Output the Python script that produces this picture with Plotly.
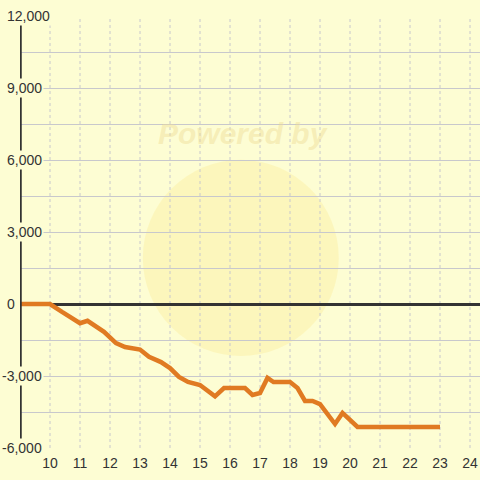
import plotly.graph_objects as go

# Data
hours = [9, 10, 10.4, 11, 11.25, 11.8, 12.2, 12.5, 13, 13.3, 13.7, 14, 14.3, 14.6,
         15, 15.4, 15.5, 15.8, 16.5, 16.75, 17, 17.25, 17.45, 18, 18.25, 18.5,
         18.75, 19, 19.25, 19.5, 19.75, 20.25, 23]
values = [0, 0, -330, -800, -700, -1160, -1630, -1790, -1900, -2200, -2420, -2670,
          -3040, -3250, -3375, -3790, -3850, -3500, -3500, -3790, -3710, -3080,
          -3250, -3250, -3500, -4040, -4040, -4170, -4625, -5000, -4540, -5125, -5125]
x_ticks = list(range(10, 25))
y_label_vals = [-6000, -3000, 0, 3000, 6000, 9000, 12000]
y_label_text = ["-6,000", "-3,000", "0", "3,000", "6,000", "9,000", "12,000"]

BG = "#fdfdd3"
TXT = "#333333"
GRID = "#c8c8cc"
FONT = "Liberation Sans, Arial"

fig = go.Figure()
fig.add_trace(go.Scatter(x=hours, y=values, mode="lines",
                         line=dict(color="#e07a22", width=4.5),
                         hoverinfo="skip", showlegend=False))

annotations = [
    dict(xref="paper", yref="y", x=0, y=v, text=t, showarrow=False,
         xanchor="left", yanchor="middle", xshift=(-20 if v < 0 else -15),
         bgcolor=BG, borderpad=1, borderwidth=1, bordercolor="rgba(0,0,0,0)",
         font=dict(size=14, color=TXT, family=FONT))
    for v, t in zip(y_label_vals, y_label_text)
]
annotations.append(dict(xref="paper", yref="paper", x=0.485, y=0.729,
                        xanchor="center", yanchor="middle",
                        text="<b><i>Powered by</i></b>", showarrow=False,
                        font=dict(size=30, color="rgba(238,220,150,0.45)",
                                  family=FONT)))

shapes = [
    dict(type="circle", xref="paper", yref="paper", x0=0.267, x1=0.693,
         y0=0.213, y1=0.667, fillcolor="rgba(250,222,110,0.22)",
         line=dict(width=0), layer="below"),
]
shapes += [
    dict(type="line", xref="x", yref="paper", x0=t, x1=t, y0=0, y1=1,
         line=dict(color=GRID, width=1, dash="3px,3px"), layer="below")
    for t in x_ticks
]
shapes.append(dict(type="line", xref="x", yref="paper", x0=9, x1=9, y0=0, y1=1,
                   line=dict(color=TXT, width=3.5)))

fig.update_layout(
    width=480, height=480,
    margin=dict(l=20, r=0, t=16, b=32),
    paper_bgcolor=BG, plot_bgcolor=BG,
    annotations=annotations, shapes=shapes,
    xaxis=dict(range=[9, 24.333], tickvals=x_ticks, showgrid=False,
               zeroline=False, showline=False, ticks="outside", ticklen=2,
               tickcolor="rgba(0,0,0,0)",
               tickfont=dict(size=14, color=TXT, family=FONT)),
    yaxis=dict(range=[-6000, 12000], dtick=1500, showticklabels=False,
               showgrid=True, gridcolor=GRID, gridwidth=1,
               zeroline=True, zerolinecolor=TXT, zerolinewidth=3, ticks=""),
)

fig.write_html("out.html", config={"displayModeBar": False},
               post_script="document.body.style.margin='0';document.body.style.background='" + BG + "';")
